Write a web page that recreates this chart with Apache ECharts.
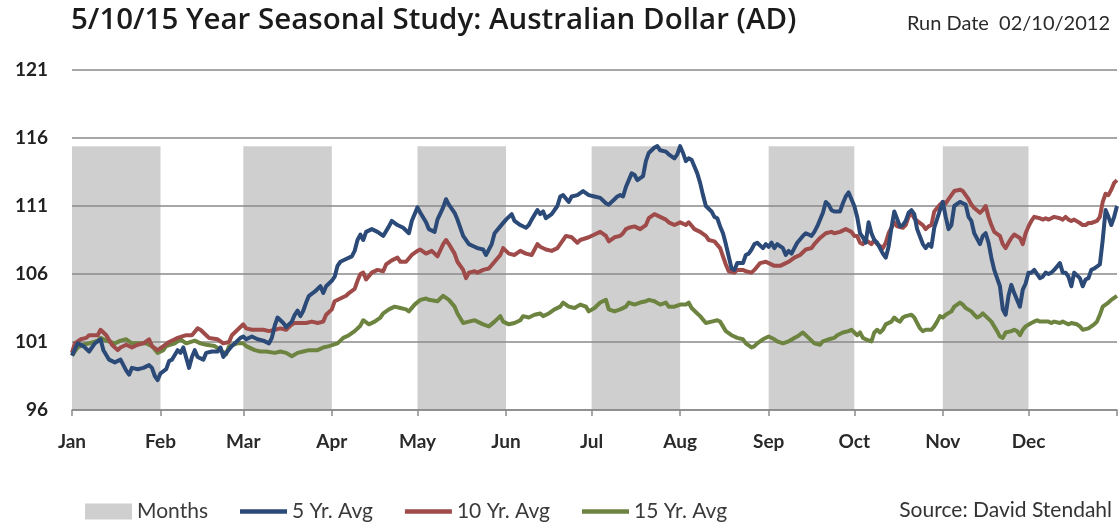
<!DOCTYPE html>
<html><head><meta charset="utf-8">
<script src="https://cdn.jsdelivr.net/npm/echarts@6/dist/echarts.min.js"></script>
<style>html,body{margin:0;padding:0;background:#fff}#c{width:1120px;height:525px}</style>
</head><body><div id="c"></div>
<script>
const months = ['Jan','Feb','Mar','Apr','May','Jun','Jul','Aug','Sep','Oct','Nov','Dec'];
const monthStartDays = [0,31,60,91,121,152,182,213,244,274,305,335];
const yearEndDay = 366;
const shadedMonths = [0,2,4,6,8,10];
const monthsBandTop = 115.4;
const yMin = 96, yMax = 121, yStep = 5;

const avg5 = [[0,100.0],[2,100.9],[4,100.7],[6,100.3],[8,100.9],[10,101.2],[11,100.4],[13,99.7],[15,99.5],[17,99.7],[19,98.9],[20,98.6],[21,99.1],[23,99.0],[25,99.1],[27,99.3],[28,99.1],[29,98.5],[30,98.2],[31,98.7],[33,99.0],[34,99.6],[35,99.7],[37,100.4],[38,100.2],[39,100.6],[41,99.1],[42,99.9],[43,100.4],[44,99.9],[46,99.7],[47,100.2],[49,100.3],[51,100.3],[52,100.6],[53,99.9],[54,100.2],[56,100.7],[57,100.9],[59,101.3],[60,101.4],[61,101.2],[63,101.4],[65,101.2],[67,101.1],[69,100.9],[70,101.3],[71,102.2],[72,102.8],[74,102.4],[75,102.1],[77,102.5],[78,103.0],[79,103.3],[80,102.9],[81,103.3],[82,103.9],[83,104.4],[85,104.7],[87,105.1],[88,104.6],[89,105.1],[91,105.5],[92,105.8],[93,106.6],[94,106.9],[96,107.1],[98,107.3],[99,107.7],[100,108.5],[101,108.9],[102,108.5],[103,109.1],[105,109.3],[107,109.1],[109,108.8],[111,109.5],[112,109.9],[114,109.6],[116,109.4],[118,109.0],[119,109.9],[121,110.9],[122,110.5],[124,109.8],[125,109.3],[127,109.1],[128,110.0],[130,110.9],[131,111.5],[132,111.1],[134,110.5],[135,110.0],[137,108.8],[139,108.2],[141,108.0],[142,107.9],[144,107.8],[145,107.4],[147,108.2],[148,109.0],[150,109.5],[152,110.0],[154,110.4],[155,109.9],[157,109.6],[159,109.4],[160,109.6],[161,110.0],[163,110.7],[164,110.4],[165,110.6],[166,110.1],[168,110.4],[170,111.0],[171,111.7],[172,111.8],[174,111.3],[175,111.7],[177,111.8],[179,112.1],[181,111.8],[183,111.7],[185,111.6],[187,111.2],[188,111.1],[190,111.5],[191,111.7],[192,111.8],[193,111.7],[194,112.4],[196,113.4],[197,113.3],[198,112.9],[200,113.2],[201,114.3],[202,114.9],[204,115.3],[205,115.4],[206,115.1],[208,115.0],[209,114.8],[211,114.5],[212,114.8],[213,115.4],[214,114.9],[215,114.3],[216,114.5],[217,114.4],[218,113.9],[219,113.4],[220,112.7],[221,111.8],[222,111.0],[224,110.6],[225,110.2],[226,110.1],[227,109.5],[228,109.0],[229,108.2],[230,107.3],[231,106.4],[232,106.3],[233,106.8],[235,106.8],[236,107.4],[237,107.5],[238,107.8],[239,108.2],[240,108.3],[242,107.9],[243,108.2],[244,108.0],[245,108.3],[246,107.9],[247,108.2],[249,107.9],[250,107.4],[251,107.7],[252,107.5],[253,107.9],[254,108.3],[256,108.8],[257,109.0],[258,108.9],[259,108.8],[260,109.1],[261,109.5],[263,110.5],[264,111.3],[265,111.1],[266,110.7],[267,110.6],[269,110.6],[270,111.2],[271,111.7],[272,112.0],[273,111.5],[274,111.0],[275,110.2],[276,109.0],[277,108.7],[278,108.3],[279,109.8],[280,109.0],[281,108.5],[282,108.3],[284,107.5],[285,107.2],[286,108.0],[287,109.4],[288,110.6],[290,109.5],[291,109.6],[292,109.9],[293,110.5],[294,110.7],[295,110.4],[296,109.3],[298,108.2],[299,107.9],[300,108.2],[301,108.0],[302,109.4],[304,110.7],[305,111.3],[306,110.2],[307,109.3],[308,109.6],[309,111.0],[311,111.3],[312,111.2],[313,111.1],[314,110.2],[315,109.9],[316,109.0],[318,108.2],[319,108.8],[320,109.0],[321,108.3],[322,107.2],[323,106.3],[325,105.1],[326,103.4],[327,103.0],[328,104.4],[329,105.2],[330,104.6],[332,103.6],[333,104.85],[334,105.3],[335,106.1],[336,106.1],[337,106.3],[339,105.7],[340,105.8],[341,106.1],[342,106.0],[343,106.1],[344,106.3],[346,106.8],[347,106.1],[348,106.1],[349,105.8],[350,105.1],[351,106.1],[353,105.7],[354,105.1],[355,105.6],[356,105.7],[357,106.3],[358,106.4],[360,106.7],[361,108.5],[362,110.7],[363,110.2],[364,109.6],[365,110.2],[366,111.0]];

const avg10 = [[0,100.2],[1,100.9],[3,101.2],[5,101.3],[6,101.5],[9,101.5],[10,101.9],[12,101.5],[14,100.8],[16,100.4],[17,100.6],[19,100.8],[21,100.6],[23,100.8],[25,100.9],[27,101.2],[28,100.7],[30,100.4],[32,100.7],[34,101.0],[36,101.2],[37,101.3],[40,101.5],[42,101.5],[44,102.0],[45,101.9],[47,101.5],[48,101.3],[51,101.2],[53,100.9],[55,101.0],[56,101.5],[58,101.9],[59,102.1],[60,102.3],[61,102.0],[63,101.9],[65,101.9],[67,101.9],[69,101.8],[71,101.9],[73,102.0],[75,101.9],[77,102.3],[78,102.4],[80,102.4],[82,102.4],[84,102.5],[86,102.4],[88,102.5],[89,103.0],[91,103.4],[92,104.0],[94,104.2],[96,104.4],[97,104.6],[99,104.9],[100,105.5],[101,106.0],[102,106.1],[103,105.6],[105,106.1],[107,106.3],[109,106.2],[110,106.7],[112,107.0],[114,107.2],[115,106.9],[117,106.9],[119,107.4],[121,107.7],[122,107.8],[124,107.5],[126,107.7],[128,107.3],[130,108.2],[131,108.5],[132,108.2],[134,107.5],[135,106.9],[137,106.3],[138,105.7],[139,106.1],[141,106.2],[142,106.1],[144,106.3],[146,106.4],[148,106.9],[150,107.4],[151,107.9],[153,107.5],[155,107.4],[157,107.7],[159,107.5],[161,107.4],[163,108.2],[164,108.0],[166,107.8],[168,107.7],[170,107.9],[171,108.2],[173,108.8],[175,108.7],[177,108.3],[178,108.5],[181,108.7],[183,108.9],[185,109.1],[187,108.8],[188,108.4],[190,108.7],[192,108.8],[193,109.0],[194,109.3],[195,109.4],[197,109.5],[199,109.3],[201,109.6],[202,110.1],[204,110.4],[206,110.2],[208,110.0],[209,109.8],[211,109.6],[213,109.8],[215,109.6],[216,109.8],[218,109.3],[220,109.1],[222,108.8],[223,108.5],[225,108.4],[227,107.9],[228,107.3],[229,106.7],[230,106.2],[232,106.1],[233,106.3],[235,106.3],[236,106.2],[238,106.1],[239,106.3],[241,106.8],[243,106.9],[244,106.8],[246,106.6],[248,106.6],[250,106.8],[251,106.9],[253,107.2],[255,107.4],[257,107.8],[259,107.9],[260,108.2],[262,108.65],[264,109.0],[266,109.1],[267,109.0],[269,109.1],[271,109.3],[273,109.1],[274,108.8],[275,108.8],[276,108.3],[277,108.2],[278,108.5],[280,108.2],[281,108.5],[282,108.2],[284,107.9],[285,108.3],[286,109.0],[287,109.4],[288,109.8],[289,109.5],[291,109.4],[292,109.6],[293,110.2],[294,110.5],[295,110.1],[296,109.9],[298,109.6],[299,109.3],[300,109.5],[301,109.6],[302,110.6],[304,111.1],[305,111.3],[306,111.2],[307,111.5],[308,111.8],[309,112.1],[311,112.2],[312,112.1],[313,111.8],[314,111.5],[315,111.1],[316,110.85],[318,110.5],[319,110.7],[320,111.0],[321,110.2],[322,109.6],[323,109.1],[325,108.8],[326,108.2],[327,107.9],[328,108.3],[329,108.65],[330,108.9],[332,108.65],[333,108.2],[334,109.0],[335,109.5],[336,109.9],[337,110.2],[339,110.1],[340,110.0],[341,110.1],[342,110.0],[343,110.1],[344,110.2],[346,110.1],[347,110.0],[348,110.2],[349,110.0],[350,109.9],[351,110.0],[353,109.75],[354,109.6],[355,109.6],[356,109.75],[357,109.75],[359,109.9],[360,110.2],[361,111.3],[362,111.9],[363,111.8],[364,112.2],[365,112.7],[366,112.9]];

const avg15 = [[0,100.0],[2,100.6],[4,100.8],[6,100.9],[9,101.1],[10,101.3],[12,101.1],[15,100.9],[17,101.1],[19,101.2],[21,100.9],[24,100.9],[26,100.9],[28,100.7],[30,100.2],[32,100.4],[33,100.7],[36,100.9],[38,101.2],[40,100.9],[43,101.1],[45,100.9],[47,100.8],[50,100.7],[52,100.4],[54,100.1],[55,100.7],[58,100.9],[60,100.9],[61,100.7],[64,100.4],[66,100.3],[68,100.3],[71,100.2],[73,100.3],[75,100.2],[77,99.95],[79,100.2],[81,100.3],[83,100.4],[86,100.4],[88,100.6],[90,100.7],[93,100.9],[95,101.3],[97,101.5],[99,101.8],[101,102.2],[102,102.6],[104,102.3],[106,102.5],[108,102.8],[109,103.1],[111,103.4],[113,103.6],[115,103.5],[117,103.4],[118,103.25],[120,103.75],[122,104.1],[124,104.2],[125,104.1],[128,104.0],[130,104.4],[132,104.1],[134,103.6],[135,103.1],[137,102.4],[139,102.5],[141,102.6],[142,102.5],[144,102.3],[146,102.15],[148,102.5],[150,102.9],[151,102.5],[153,102.3],[155,102.4],[157,102.6],[158,102.9],[160,102.8],[162,103.0],[164,103.1],[165,102.9],[167,103.1],[169,103.4],[171,103.6],[172,103.9],[174,103.6],[176,103.5],[178,103.75],[180,103.6],[181,103.25],[183,103.5],[185,103.9],[187,104.1],[188,103.4],[190,103.25],[192,103.4],[194,103.6],[195,103.9],[197,103.75],[199,103.9],[201,104.0],[202,104.1],[204,104.0],[206,103.75],[208,103.9],[209,103.6],[211,103.6],[213,103.75],[215,103.75],[216,103.9],[217,103.5],[219,103.1],[220,102.9],[222,102.4],[224,102.5],[226,102.6],[227,102.5],[228,102.15],[229,101.8],[231,101.5],[233,101.3],[235,101.2],[236,100.9],[238,100.6],[239,100.7],[240,100.9],[242,101.2],[244,101.4],[246,101.2],[247,101.05],[249,100.9],[251,101.05],[253,101.3],[254,101.4],[256,101.7],[258,101.3],[260,100.9],[262,100.8],[263,101.05],[265,101.2],[267,101.3],[268,101.5],[270,101.7],[272,101.8],[273,101.9],[275,101.5],[276,101.7],[277,101.3],[278,101.2],[280,101.05],[281,101.7],[282,101.9],[283,101.7],[284,101.9],[285,102.3],[287,102.5],[288,102.8],[289,102.6],[290,102.5],[291,102.8],[292,102.9],[294,103.0],[295,102.8],[296,102.4],[297,102.0],[298,101.8],[299,101.9],[301,101.9],[302,102.15],[303,102.5],[304,102.9],[305,102.8],[306,103.0],[308,103.25],[309,103.6],[310,103.75],[311,103.9],[312,103.75],[313,103.5],[315,103.25],[316,103.0],[317,102.8],[318,102.9],[319,103.1],[320,102.9],[322,102.5],[323,102.15],[324,101.8],[325,101.4],[326,101.3],[327,101.7],[329,101.8],[330,101.9],[331,101.8],[332,101.5],[333,101.9],[334,102.15],[336,102.4],[337,102.5],[338,102.6],[339,102.5],[341,102.5],[342,102.5],[343,102.4],[344,102.5],[346,102.4],[347,102.5],[348,102.4],[349,102.3],[350,102.4],[352,102.3],[353,102.15],[354,101.9],[356,102.0],[357,102.15],[358,102.3],[359,102.5],[360,103.0],[361,103.6],[362,103.75],[363,103.9],[364,104.1],[366,104.4]];

const seriesNames = ['Months','5 Yr. Avg','10 Yr. Avg','15 Yr. Avg'];
const titleText = '5/10/15 Year Seasonal Study: Australian Dollar (AD)';
const runDateText = 'Run Date  02/10/2012';
const sourceText = 'Source: David Stendahl';

const FONT = 'Lato, "Open Sans", sans-serif';
const TITLE_FONT = '"Open Sans", Lato, sans-serif';
const colors = { months:'#cfcfcf', a5:'#2b4a78', a10:'#9e4b49', a15:'#6d8340' };
const lineIcon = 'path://M0 0H48V4.4H0Z';

const chart = echarts.init(document.getElementById('c'), null, {renderer:'canvas'});
const tickDays = monthStartDays.concat([yearEndDay]);

chart.setOption({
  animation: false,
  backgroundColor: '#fff',
  title: {
    text: titleText, left: 66, top: 1,
    textStyle: { fontFamily: TITLE_FONT, fontSize: 29.5, fontWeight: 600, color: '#1b1b1b' }
  },
  graphic: [
    { type:'text', right: 10, top: 14, style: { text: runDateText, font: '20px ' + FONT, fill: '#2a2a2a' } },
    { type:'text', right: 8, top: 500, style: { text: sourceText, font: '21px ' + FONT, fill: '#333' } }
  ],
  legend: {
    left: 80, top: 496, itemWidth: 47, itemHeight: 16, itemGap: 32,
    textStyle: { fontFamily: FONT, fontSize: 21, color: '#3a3a3a' },
    data: [
      { name: seriesNames[0], icon: 'rect' },
      { name: seriesNames[1], icon: lineIcon },
      { name: seriesNames[2], icon: lineIcon },
      { name: seriesNames[3], icon: lineIcon }
    ]
  },
  grid: { left: 72, right: 3, top: 70, bottom: 115, containLabel: false },
  xAxis: {
    type: 'value', min: 0, max: yearEndDay, z: 2,
    splitLine: { show: false },
    axisLine: { show: true, lineStyle: { color: '#8a8a8a', width: 1.5 } },
    axisTick: { show: true, customValues: tickDays, length: 6, lineStyle: { color: '#8a8a8a', width: 1.5 } },
    axisLabel: {
      customValues: monthStartDays, margin: 22,
      fontFamily: FONT, fontSize: 19, fontWeight: 'bold', color: '#2a2a2a',
      formatter: v => months[monthStartDays.indexOf(v)]
    }
  },
  yAxis: {
    type: 'value', min: yMin, max: yMax, interval: yStep, z: 2,
    axisLine: { show: false }, axisTick: { show: false },
    splitLine: { lineStyle: { color: '#8a8a8a', width: 1.5 } },
    axisLabel: { margin: 24, fontFamily: FONT, fontSize: 19, fontWeight: 'bold', color: '#222',
      padding: [4, 0, 0, 0] }
  },
  series: [
    {
      name: seriesNames[0], type: 'bar', data: [], color: colors.months, z: 1,
      markArea: {
        silent: true, z: 1,
        itemStyle: { color: colors.months },
        data: shadedMonths.map(i => [
          { xAxis: monthStartDays[i], yAxis: yMin },
          { xAxis: monthStartDays[i + 1], yAxis: monthsBandTop }
        ])
      }
    },
    { name: seriesNames[1], type: 'line', data: avg5, color: colors.a5, showSymbol: false, symbol: 'none', z: 5,
      lineStyle: { width: 4, color: colors.a5, join: 'round' } },
    { name: seriesNames[2], type: 'line', data: avg10, color: colors.a10, showSymbol: false, symbol: 'none', z: 4,
      lineStyle: { width: 4, color: colors.a10, join: 'round' } },
    { name: seriesNames[3], type: 'line', data: avg15, color: colors.a15, showSymbol: false, symbol: 'none', z: 3,
      lineStyle: { width: 4, color: colors.a15, join: 'round' } }
  ]
});
</script>
</body></html>
